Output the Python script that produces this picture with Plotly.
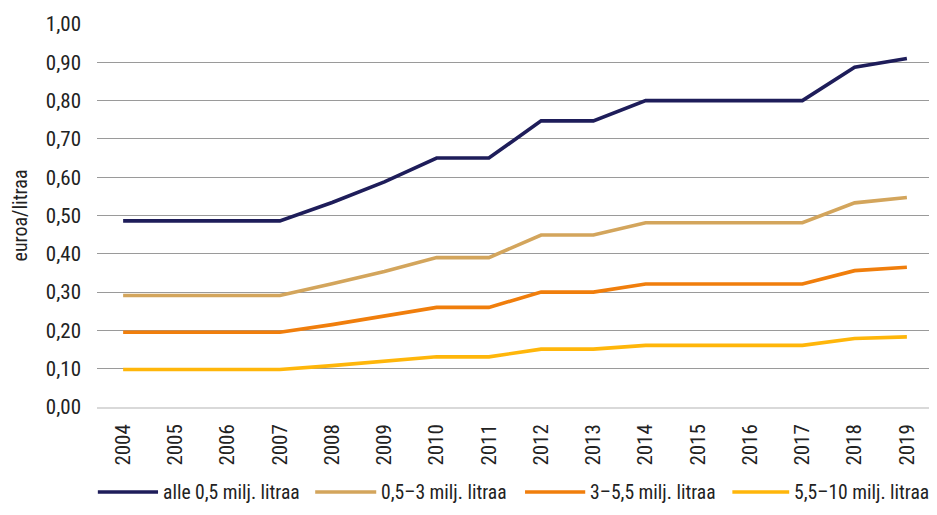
import plotly.graph_objects as go

years = [str(y) for y in range(2004, 2020)]
alle_05 = [0.486, 0.486, 0.486, 0.486, 0.534, 0.588, 0.650, 0.650, 0.747, 0.747, 0.800, 0.800, 0.800, 0.800, 0.887, 0.910]
v05_3 = [0.291, 0.291, 0.291, 0.291, 0.322, 0.354, 0.390, 0.390, 0.449, 0.449, 0.481, 0.481, 0.481, 0.481, 0.533, 0.547]
v3_55 = [0.195, 0.195, 0.195, 0.195, 0.215, 0.237, 0.260, 0.260, 0.300, 0.300, 0.321, 0.321, 0.321, 0.321, 0.356, 0.365]
v55_10 = [0.098, 0.098, 0.098, 0.098, 0.108, 0.119, 0.131, 0.131, 0.151, 0.151, 0.161, 0.161, 0.161, 0.161, 0.179, 0.183]

names = ["alle 0,5 milj. litraa", "0,5\u20133 milj. litraa", "3\u20135,5 milj. litraa", "5,5\u201310 milj. litraa"]
colors = ["#1e1d5a", "#d3a55c", "#f07e0c", "#ffb60a"]
series = [alle_05, v05_3, v3_55, v55_10]

FONT = "Liberation Sans Narrow, Roboto Condensed, Arial Narrow, sans-serif"
TXT = "#222222"

fig = go.Figure()
for n, c, s in zip(names, colors, series):
    fig.add_trace(go.Scatter(x=years, y=s, name=n, mode="lines",
                             line=dict(color=c, width=3.6), showlegend=False))

# custom legend (long line samples, as in the reference)
leg_line_x = [(0.001, 0.073), (0.261, 0.334), (0.512, 0.584), (0.760, 0.828)]
leg_y = -0.222
for (x0, x1), n, c in zip(leg_line_x, names, colors):
    fig.add_shape(type="line", xref="paper", yref="paper", x0=x0, x1=x1,
                  y0=leg_y, y1=leg_y, line=dict(color=c, width=3.6))
    fig.add_annotation(xref="paper", yref="paper", x=x1 + 0.003, y=leg_y,
                       xanchor="left", yanchor="middle", text=n, showarrow=False,
                       font=dict(family=FONT, size=19.6, color=TXT))

# the page adds an 8px body margin, so the figure is sized to fit inside it
fig.update_layout(
    width=929, height=507,
    margin=dict(l=89, r=4, t=16, b=108),
    plot_bgcolor="white", paper_bgcolor="white",
    separators=", ",
    font=dict(family=FONT, size=21, color=TXT),
    showlegend=False,
    xaxis=dict(type="category", range=[-0.5, 15.5], tickangle=-90, showgrid=False, showline=True,
               linecolor="#d9d9d9", linewidth=1.5, ticks="", zeroline=False,
               ticklabelstandoff=7, automargin=False,
               tickfont=dict(family=FONT, size=21, color=TXT)),
    yaxis=dict(range=[0, 1.0], dtick=0.1, tickformat=".2f", showgrid=True,
               gridcolor="#9a9a9a", gridwidth=1, zeroline=False, showline=False,
               ticks="", ticklabelstandoff=15, automargin=False,
               title=dict(text="euroa/litraa", font=dict(family=FONT, size=20, color=TXT), standoff=17),
               tickfont=dict(family=FONT, size=21, color=TXT)),
)

fig.write_html("out.html")
